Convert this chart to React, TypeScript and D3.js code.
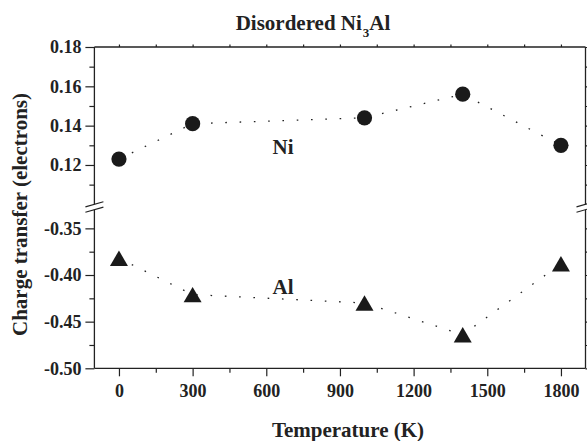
import React, { useRef, useEffect } from 'react';
import * as d3 from 'd3';

// Charge transfer vs temperature, disordered Ni3Al
const temperatures = [0, 300, 1000, 1400, 1800];
const niCharge = [0.123, 0.141, 0.144, 0.156, 0.130];
const alCharge = [-0.382, -0.421, -0.430, -0.464, -0.388];

const xTicks = [0, 300, 600, 900, 1200, 1500, 1800];
const xMinorTicks = [150, 450, 750, 1050, 1350, 1650];
const upperTicks = [0.12, 0.14, 0.16, 0.18];
const upperMinor = [0.11, 0.13, 0.15, 0.17];
const lowerTicks = [-0.5, -0.45, -0.4, -0.35];
const lowerMinor = [-0.475, -0.425, -0.375];

export default function App() {
  const svgRef = useRef<SVGSVGElement>(null);

  useEffect(() => {
    const svg = d3.select(svgRef.current);
    svg.selectAll('*').remove();

    const ink = '#222';
    const font = "'Liberation Serif', 'Times New Roman', Times, serif";

    const x = d3.scaleLinear().domain([-100, 1900]).range([94.4, 585.5]);
    // broken y axis: two linear pieces
    const yTop = d3.scaleLinear().domain([0.10, 0.18]).range([204.3, 47]);
    const yBot = d3.scaleLinear().domain([-0.50, -0.33]).range([368.3, 209.7]);

    const [xl, xr] = x.range();
    const yt = yTop(0.18), yb = yBot(-0.5);
    const brkA = yTop(0.10), brkB = yBot(-0.33);

    const styleAxis = (g: any) => {
      g.attr('font-family', font);
      g.select('.domain').remove();
      g.selectAll('.tick line').attr('stroke', ink).attr('stroke-width', 1.2);
      g.selectAll('.tick text')
        .attr('fill', ink)
        .style('font-family', font)
        .attr('font-weight', 'bold')
        .attr('font-size', 18);
    };

    // left axis, upper + lower pieces
    svg.append('g').attr('transform', `translate(${xl},0)`)
      .call(d3.axisLeft(yTop).tickValues(upperTicks).tickSize(9).tickPadding(4).tickFormat(d3.format('.2f')))
      .call(styleAxis);
    svg.append('g').attr('transform', `translate(${xl},0)`)
      .call(d3.axisLeft(yTop).tickValues(upperMinor).tickSize(5).tickFormat(() => ''))
      .call(styleAxis);
    svg.append('g').attr('transform', `translate(${xl},0)`)
      .call(d3.axisLeft(yBot).tickValues(lowerTicks).tickSize(9).tickPadding(4).tickFormat(d => d3.format('.2f')(d as number).replace('−', '-')))
      .call(styleAxis);
    svg.append('g').attr('transform', `translate(${xl},0)`)
      .call(d3.axisLeft(yBot).tickValues(lowerMinor).tickSize(5).tickFormat(() => ''))
      .call(styleAxis);

    // right axis ticks (outward, no labels)
    svg.append('g').attr('transform', `translate(${xr},0)`)
      .call(d3.axisRight(yTop).tickValues([...upperTicks, ...upperMinor]).tickSize(3).tickFormat(() => ''))
      .call(styleAxis);
    svg.append('g').attr('transform', `translate(${xr},0)`)
      .call(d3.axisRight(yBot).tickValues([...lowerTicks, ...lowerMinor]).tickSize(3).tickFormat(() => ''))
      .call(styleAxis);

    // bottom axis
    svg.append('g').attr('transform', `translate(0,${yb})`)
      .call(d3.axisBottom(x).tickValues(xTicks).tickSize(8).tickPadding(8).tickFormat(d3.format('d')))
      .call(styleAxis);
    svg.append('g').attr('transform', `translate(0,${yb})`)
      .call(d3.axisBottom(x).tickValues(xMinorTicks).tickSize(4.5).tickFormat(() => ''))
      .call(styleAxis);

    // top axis small ticks
    svg.append('g').attr('transform', `translate(0,${yt})`)
      .call(d3.axisTop(x).tickValues([...xTicks, ...xMinorTicks]).tickSize(2.5).tickFormat(() => ''))
      .call(styleAxis);

    // frame with gaps at the break
    const frame = svg.append('g').attr('stroke', ink).attr('stroke-width', 1.3).attr('fill', 'none');
    frame.append('line').attr('x1', xl).attr('x2', xr).attr('y1', yt).attr('y2', yt);
    frame.append('line').attr('x1', xl).attr('x2', xr).attr('y1', yb).attr('y2', yb);
    [xl, xr].forEach(xx => {
      frame.append('line').attr('x1', xx).attr('x2', xx).attr('y1', yt).attr('y2', brkA);
      frame.append('line').attr('x1', xx).attr('x2', xx).attr('y1', brkB).attr('y2', yb);
      [brkA, brkB].forEach(yy => {
        frame.append('line')
          .attr('x1', xx - 9).attr('y1', yy + 2.6)
          .attr('x2', xx + 9).attr('y2', yy - 2.6)
          .attr('stroke-width', 1.1);
      });
    });

    // dotted connectors
    const niLine = d3.line<number>().x((d, i) => x(temperatures[i])).y(d => yTop(d));
    const alLine = d3.line<number>().x((d, i) => x(temperatures[i])).y(d => yBot(d));
    [niLine(niCharge), alLine(alCharge)].forEach(p => {
      svg.append('path')
        .attr('d', p as string)
        .attr('fill', 'none')
        .attr('stroke', ink)
        .attr('stroke-width', 1.3)
        .attr('stroke-dasharray', '1.6,12.7');
    });

    // Ni circles
    svg.append('g').selectAll('circle')
      .data(niCharge)
      .join('circle')
      .attr('cx', (d, i) => x(temperatures[i]))
      .attr('cy', d => yTop(d))
      .attr('r', 7.6)
      .attr('fill', '#1a1a1a');

    // Al triangles
    svg.append('g').selectAll('path')
      .data(alCharge)
      .join('path')
      .attr('d', (d, i) => {
        const cx = x(temperatures[i]), cy = yBot(d);
        return `M${cx - 9},${cy + 7.7}L${cx + 9},${cy + 7.7}L${cx},${cy - 7.7}Z`;
      })
      .attr('fill', '#1a1a1a');

    const txt = (sel: any) => sel
      .attr('fill', ink)
      .style('font-family', font)
      .attr('font-weight', 'bold');

    // series labels
    svg.append('text').call(txt).attr('x', 283).attr('y', 154)
      .attr('text-anchor', 'middle').attr('font-size', 21).text('Ni');
    svg.append('text').call(txt).attr('x', 283).attr('y', 294)
      .attr('text-anchor', 'middle').attr('font-size', 21).text('Al');

    // title
    const title = svg.append('text').call(txt)
      .attr('x', 313).attr('y', 30)
      .attr('text-anchor', 'middle').attr('font-size', 21);
    title.append('tspan').text('Disordered Ni');
    title.append('tspan').attr('dy', 7).attr('dx', 1).attr('font-size', 13).text('3');
    title.append('tspan').attr('dy', -7).text('Al');

    // axis titles
    svg.append('text').call(txt)
      .attr('x', 348).attr('y', 437)
      .attr('text-anchor', 'middle').attr('font-size', 21)
      .text('Temperature (K)');
    svg.append('text').call(txt)
      .attr('transform', 'translate(27,214.5) rotate(-90)')
      .attr('text-anchor', 'middle').attr('font-size', 21)
      .text('Charge transfer (electrons)');
  }, []);

  return (
    <svg ref={svgRef} width={587} height={441}
      style={{ position: 'absolute', left: 0, top: 0, background: '#fff' }} />
  );
}
